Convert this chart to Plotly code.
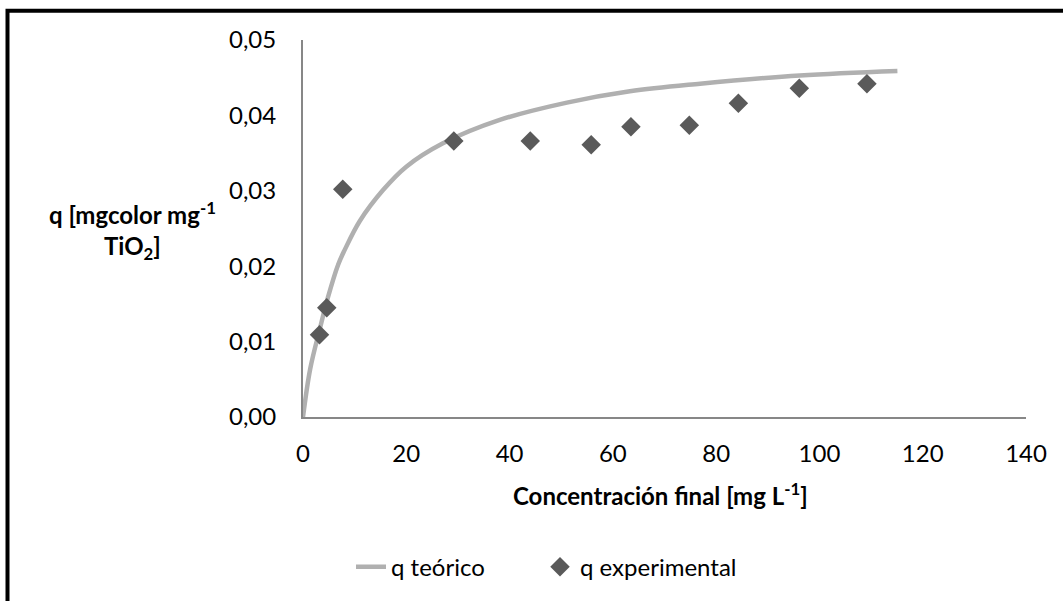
import plotly.graph_objects as go

c_exp = [3.2, 4.6, 7.7, 29.2, 44.0, 55.8, 63.5, 74.8, 84.3, 96.1, 109.2]
q_exp = [0.0109, 0.0145, 0.0302, 0.0366, 0.0366, 0.0361, 0.0385, 0.0387, 0.0416, 0.0436, 0.0442]

# Theoretical curve
c_teo = [0, 1.4, 3.3, 4.8, 6.8, 8.1, 11.0, 15.5, 20.0, 27.1, 38.1, 51.1, 63.3, 76.9, 96.2, 115.1]
q_teo = [0, 0.0064, 0.0118, 0.0158, 0.0202, 0.0222, 0.0260, 0.0301, 0.0332, 0.0363, 0.0394, 0.0417, 0.0432, 0.0442, 0.0453, 0.0459]

x_ticks = [0, 20, 40, 60, 80, 100, 120, 140]
y_ticks = [0.00, 0.01, 0.02, 0.03, 0.04, 0.05]
y_tick_labels = ["0,00", "0,01", "0,02", "0,03", "0,04", "0,05"]

FONT = "Lato, Carlito, Calibri, sans-serif"
FS = 24

fig = go.Figure()
fig.add_trace(go.Scatter(
    x=c_teo, y=q_teo, mode="lines", name="q teórico", legend="legend",
    line=dict(color="#b0b0b0", width=4.5, shape="spline", smoothing=1.0),
))
fig.add_trace(go.Scatter(
    x=c_exp, y=q_exp, mode="markers", name="q experimental", legend="legend2",
    marker=dict(symbol="diamond", size=15, color="#5a5a5a",
                line=dict(width=0)),
))

leg_common = dict(orientation="h", y=-0.398, yanchor="middle", xanchor="left",
                  font=dict(family=FONT, size=FS, color="black"),
                  bgcolor="rgba(0,0,0,0)")

fig.update_layout(
    width=1063, height=601, autosize=False,
    margin=dict(l=303, r=37, t=40, b=184),
    paper_bgcolor="white", plot_bgcolor="white",
    font=dict(family=FONT, size=FS, color="black"),
    showlegend=True,
    legend=dict(x=(351 - 303) / 723, **leg_common),
    legend2=dict(x=(540 - 303) / 723, **leg_common),
    xaxis=dict(range=[0, 140], tickvals=x_ticks, showgrid=False, zeroline=False,
               showline=True, linecolor="#878787", linewidth=2, ticks="",
               ticklabelstandoff=14, tickfont=dict(size=FS)),
    yaxis=dict(range=[0, 0.05], tickvals=y_ticks, ticktext=y_tick_labels,
               showgrid=False, zeroline=False, showline=True,
               linecolor="#878787", linewidth=2, ticks="",
               ticklabelstandoff=20, tickfont=dict(size=FS)),
    annotations=[
        dict(text="<b>Concentración final [mg L<sup>-1</sup>]</b>", xref="paper", yref="paper",
             x=0.494, y=-0.204, xanchor="center", yanchor="middle", showarrow=False,
             font=dict(family=FONT, size=FS)),
        dict(text="<b>q [mgcolor mg<sup>-1</sup><br>TiO<sub>2</sub>]</b>", xref="paper", yref="paper",
             x=(132 - 303) / 723, y=(417 - 231) / 377, xanchor="center", yanchor="middle",
             showarrow=False, align="center", font=dict(family=FONT, size=FS)),
    ],
    shapes=[
        dict(type="rect", xref="paper", yref="paper",
             x0=(7.5 - 303) / 723, x1=(1075 - 303) / 723,
             y0=(417 - 620) / 377, y1=(417 - 10.7) / 377,
             line=dict(color="black", width=4), fillcolor="rgba(0,0,0,0)", layer="below"),
    ],
)

fig.write_html("out.html", config={"displayModeBar": False},
               post_script="document.body.style.margin='0px';")
